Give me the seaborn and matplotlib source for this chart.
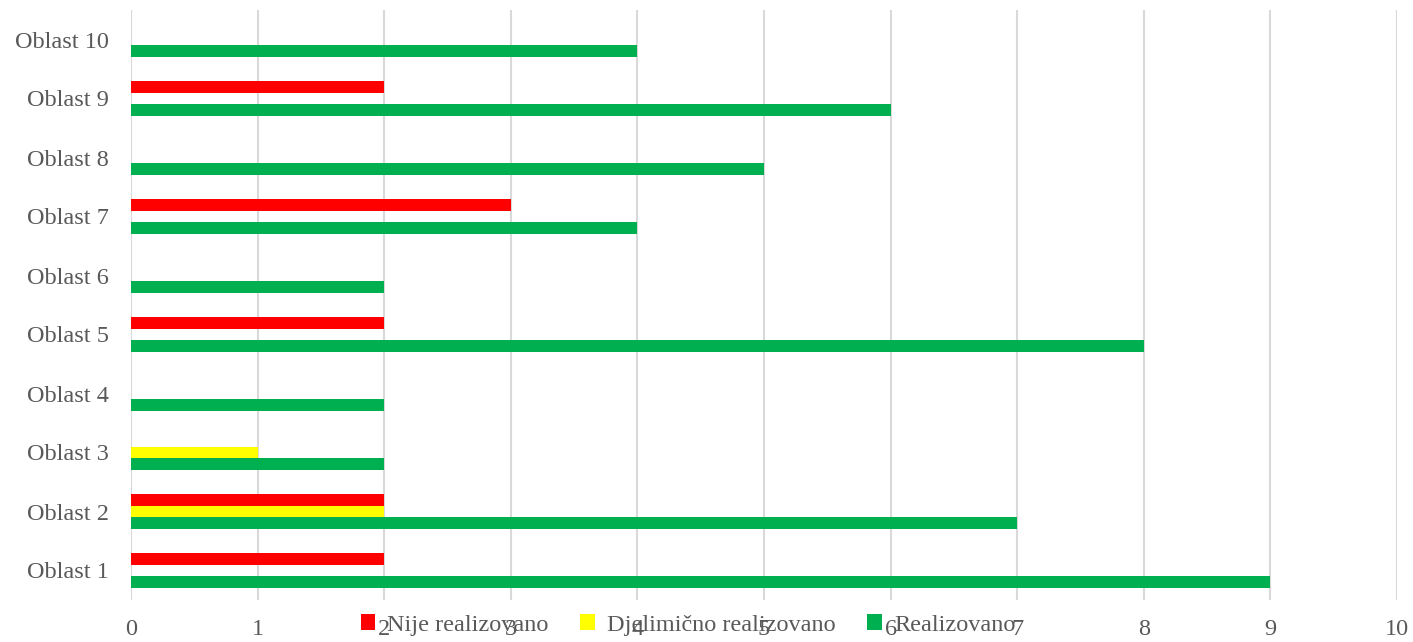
import pandas as pd
import matplotlib.pyplot as plt
import seaborn as sns

# data
oblasti = ['Oblast 1', 'Oblast 2', 'Oblast 3', 'Oblast 4', 'Oblast 5',
           'Oblast 6', 'Oblast 7', 'Oblast 8', 'Oblast 9', 'Oblast 10']
nije = [2, 2, 0, 0, 2, 0, 3, 0, 2, 0]
djelimicno = [0, 2, 1, 0, 0, 0, 0, 0, 0, 0]
realizovano = [9, 7, 2, 2, 8, 2, 4, 5, 6, 4]
serije = ['Nije realizovano', 'Djelimično realizovano', 'Realizovano']
boje = ['#FF0000', '#FFFF00', '#00B050']

df = pd.DataFrame({
    'Oblast': oblasti * 3,
    'Serija': [serije[0]] * 10 + [serije[1]] * 10 + [serije[2]] * 10,
    'Vrijednost': nije + djelimicno + realizovano,
})

sns.set_style('white')
plt.rcParams['font.family'] = ['Liberation Serif', 'DejaVu Serif']
siva = '#595959'

fig = plt.figure(figsize=(14.13, 6.42), dpi=100)
ax = fig.add_axes([131 / 1413, 42 / 642, 1266 / 1413, 590 / 642])

sns.barplot(data=df, x='Vrijednost', y='Oblast', hue='Serija',
            order=oblasti[::-1], hue_order=serije, palette=boje,
            orient='h', width=0.61, saturation=1, linewidth=0,
            ax=ax, legend=True)

ax.set_xlim(0, 10)
ax.set_xticks(range(11))
ax.grid(axis='x', color='#D9D9D9', linewidth=1.5)
ax.set_axisbelow(True)
for s in ax.spines.values():
    s.set_visible(False)
ax.set_xlabel('')
ax.set_ylabel('')
ax.tick_params(axis='x', length=0, pad=14, labelsize=17.5, labelcolor=siva)
ax.tick_params(axis='y', length=0, pad=16, labelsize=17.5, labelcolor=siva)

# legenda ispod, preko oznaka x ose kao u originalu
handles, labels = ax.get_legend_handles_labels()
ax.get_legend().remove()
fig.legend(handles, labels, loc='center', bbox_to_anchor=(688 / 1413, 1 - 625 / 642),
           ncol=3, frameon=False, fontsize=17.5, labelcolor=siva,
           handlelength=0.6, handleheight=0.6, handletextpad=0.5, columnspacing=1.3)

plt.savefig('out.png', dpi=100)
